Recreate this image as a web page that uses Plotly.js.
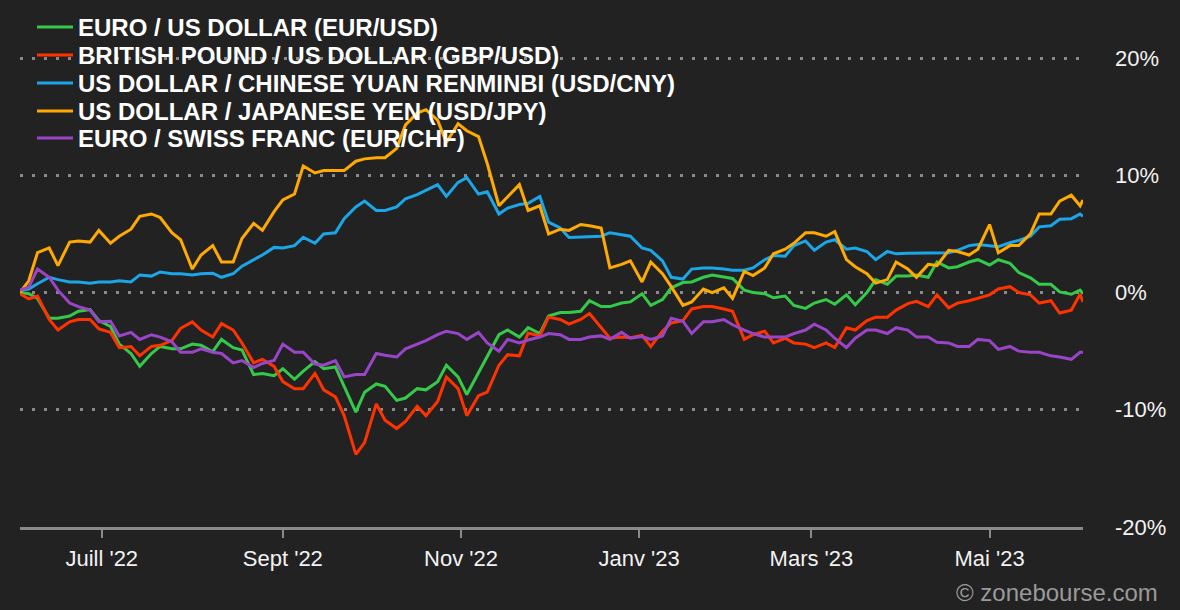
<!DOCTYPE html>
<html>
<head>
<meta charset="utf-8">
<script src="https://cdn.plot.ly/plotly-3.0.1.min.js"></script>
<style>html,body{margin:0;padding:0;background:#222222;}#chart{width:1180px;height:610px;}</style>
</head>
<body>
<div id="chart"></div>
<script>
const dates = ['2022-06-03','2022-06-06','2022-06-09','2022-06-13','2022-06-16','2022-06-20','2022-06-23','2022-06-27','2022-06-30','2022-07-04','2022-07-07','2022-07-11','2022-07-14','2022-07-18','2022-07-21','2022-07-25','2022-07-28','2022-08-01','2022-08-04','2022-08-08','2022-08-11','2022-08-15','2022-08-18','2022-08-22','2022-08-25','2022-08-29','2022-09-01','2022-09-05','2022-09-08','2022-09-12','2022-09-15','2022-09-19','2022-09-22','2022-09-26','2022-09-29','2022-10-03','2022-10-06','2022-10-10','2022-10-13','2022-10-17','2022-10-20','2022-10-24','2022-10-27','2022-10-31','2022-11-03','2022-11-07','2022-11-10','2022-11-14','2022-11-17','2022-11-21','2022-11-24','2022-11-28','2022-12-01','2022-12-05','2022-12-08','2022-12-12','2022-12-15','2022-12-19','2022-12-22','2022-12-26','2022-12-29','2023-01-02','2023-01-05','2023-01-09','2023-01-12','2023-01-16','2023-01-19','2023-01-23','2023-01-26','2023-01-30','2023-02-02','2023-02-06','2023-02-09','2023-02-13','2023-02-16','2023-02-20','2023-02-23','2023-02-27','2023-03-02','2023-03-06','2023-03-09','2023-03-13','2023-03-16','2023-03-20','2023-03-23','2023-03-27','2023-03-30','2023-04-03','2023-04-06','2023-04-10','2023-04-13','2023-04-17','2023-04-20','2023-04-24','2023-04-27','2023-05-01','2023-05-04','2023-05-08','2023-05-11','2023-05-15','2023-05-18','2023-05-22','2023-05-25','2023-05-29','2023-06-01','2023-06-02'];

const eurusd = [0.0,-0.1,-0.5,-2.2,-2.2,-2.0,-1.6,-1.45,-2.4,-2.9, -4.4,-5.2,-6.3,-5.2,-4.6,-4.8,-4.8,-4.4,-4.5,-5.05, -4.0,-4.7,-4.9,-7.0,-6.9,-7.1,-6.5,-7.4,-6.7,-5.9, -6.5,-6.35,-8.0,-10.2,-8.5,-7.8,-8.0,-9.2,-9.0,-8.2, -8.3,-7.6,-6.2,-7.2,-8.7,-6.8,-5.4,-3.6,-3.2,-3.8, -3.0,-3.5,-2.0,-1.7,-1.7,-1.6,-0.7,-1.2,-1.2,-0.9, -0.8,-0.1,-1.1,-0.6,0.4,0.85,0.9,1.3,1.5,1.3, 1.2,0.2,0.0,-0.1,-0.45,-0.3,-1.1,-1.35,-0.9,-0.6, -1.0,-0.2,-1.05,0.0,1.1,0.7,1.4,1.4,1.5,1.3, 2.6,2.1,2.2,2.6,2.8,2.35,2.8,2.5,1.7,1.25, 0.7,0.7,0.05,-0.15,0.2,-0.1];

const gbpusd = [-0.1,-0.55,-0.3,-2.3,-3.2,-2.5,-2.3,-2.3,-3.1,-3.4, -4.7,-4.6,-5.4,-4.6,-4.5,-4.1,-3.05,-2.5,-3.2,-3.8, -2.65,-3.2,-4.3,-6.0,-5.7,-6.3,-7.6,-8.2,-8.2,-6.9, -8.3,-8.9,-10.5,-13.8,-12.8,-9.5,-10.9,-11.6,-11.0,-9.7, -10.5,-9.3,-7.2,-8.2,-10.5,-8.8,-8.5,-6.2,-5.3,-5.4, -3.45,-3.7,-2.1,-2.3,-2.7,-2.3,-1.8,-3.0,-3.9,-3.8, -3.85,-3.65,-4.6,-3.3,-2.6,-2.4,-1.4,-1.2,-1.2,-1.4, -1.6,-4.0,-3.6,-3.3,-4.3,-3.9,-4.3,-4.4,-4.7,-4.3, -4.7,-3.0,-3.2,-2.4,-2.1,-2.1,-1.5,-0.95,-0.75,-1.2, -0.2,-1.3,-0.9,-0.7,-0.5,-0.2,0.3,0.5,0.0,-0.2, -0.9,-0.7,-1.75,-1.5,-0.15,-0.8];

const usdcny = [0.2,0.3,0.75,1.3,1.1,0.9,0.9,0.8,0.9,0.9, 1.0,0.9,1.5,1.4,1.75,1.6,1.6,1.5,1.6,1.65, 1.3,1.6,2.25,2.8,3.2,3.85,3.8,4.0,4.7,4.2, 5.0,5.1,6.3,7.3,7.8,7.0,7.0,7.3,8.0,8.35, 8.7,9.2,8.2,9.4,9.8,8.4,8.6,6.7,7.2,7.5, 7.6,8.2,6.0,5.5,4.7,4.75,4.8,4.8,5.1,4.9, 4.8,3.8,3.6,2.7,1.3,1.15,2.0,2.1,2.1,2.0, 1.9,1.9,2.1,2.8,3.15,3.1,4.0,4.4,3.6,4.3, 4.5,3.7,3.8,3.5,2.8,3.5,3.3,3.35,3.35,3.4, 3.35,3.4,3.6,4.0,4.1,3.95,3.9,4.25,4.45,4.8, 5.6,5.7,6.25,6.3,6.7,6.5];

const usdjpy = [0.0,1.0,3.4,3.8,2.3,4.3,4.4,4.3,5.3,4.2, 4.8,5.4,6.5,6.7,6.4,5.1,4.5,2.0,3.2,4.0, 2.6,2.6,4.6,5.9,5.3,6.9,7.9,8.4,10.8,10.2, 10.4,10.4,10.4,11.2,11.4,11.5,11.5,12.3,14.3,15.3, 15.6,14.7,12.8,14.4,13.8,13.3,11.0,7.4,8.15,9.2, 7.0,7.4,5.0,5.4,5.3,5.8,5.7,5.5,2.1,2.4, 2.7,0.9,2.6,1.6,0.5,-1.1,-0.8,0.3,0.0,0.4, -0.5,1.8,1.45,2.1,3.3,3.7,4.2,5.1,5.1,4.8, 5.2,2.8,2.2,1.6,0.8,1.1,2.6,2.0,1.3,2.4, 2.3,3.6,3.5,3.2,3.7,5.8,3.4,4.0,4.0,5.0, 6.7,6.7,7.8,8.3,7.4,7.9];

const eurchf = [0.2,0.45,2.0,1.3,0.2,-0.9,-1.2,-1.5,-2.5,-2.45, -3.7,-3.4,-4.0,-3.6,-3.8,-4.2,-5.1,-5.1,-4.8,-5.1, -5.2,-6.0,-5.8,-6.4,-6.05,-5.8,-4.4,-5.1,-5.1,-6.1, -6.2,-5.8,-7.2,-7.0,-7.0,-5.2,-5.35,-5.5,-4.8,-4.4, -4.1,-3.6,-3.3,-3.5,-4.0,-3.4,-4.3,-5.0,-4.0,-4.3, -4.05,-3.8,-3.5,-3.6,-4.0,-4.0,-3.8,-3.7,-4.0,-3.4, -3.9,-3.75,-4.0,-3.7,-2.2,-2.45,-3.5,-2.5,-2.5,-2.3, -2.75,-3.2,-3.5,-3.8,-3.8,-3.8,-3.5,-3.2,-2.7,-3.2, -3.9,-4.7,-3.9,-3.2,-3.2,-3.5,-3.0,-3.2,-3.8,-3.8, -4.25,-4.3,-4.6,-4.6,-4.0,-4.1,-4.85,-4.6,-5.0,-5.1, -5.1,-5.4,-5.5,-5.7,-5.1,-5.1];

const seriesNames = ['EURO / US DOLLAR (EUR/USD)','BRITISH POUND / US DOLLAR (GBP/USD)','US DOLLAR / CHINESE YUAN RENMINBI (USD/CNY)','US DOLLAR / JAPANESE YEN (USD/JPY)','EURO / SWISS FRANC (EUR/CHF)'];
const seriesColors = ['#35c94a','#ff3300','#1ba6e8','#ffaa00','#9a45c8'];
const xTickDates = ['2022-07-01','2022-09-01','2022-11-01','2023-01-01','2023-03-01','2023-05-01'];
const xTickLabels = ["Juill '22","Sept '22","Nov '22","Janv '23","Mars '23","Mai '23"];
const yTickVals = [-20,-10,0,10,20];
const yTickLabels = ['-20%','-10%','0%','10%','20%'];

const allSeries = [eurusd, gbpusd, usdcny, usdjpy, eurchf];
const legendIds = ['legend','legend2','legend3','legend4','legend5'];
const FONT = 'Liberation Sans, Arial, Helvetica, sans-serif';

const traces = allSeries.map((ys, i) => ({
  x: dates, y: ys, type: 'scatter', mode: 'lines',
  name: seriesNames[i],
  line: {color: seriesColors[i], width: 3},
  legend: legendIds[i],
  hoverinfo: 'skip'
}));

// plot area: x 20..1083, y 0..527 ; 20% sits at y=58
const PLOT_H = 527;
const legendTopsPx = [5, 33, 61, 89, 116];
const layout = {
  width: 1180, height: 610,
  paper_bgcolor: '#222222', plot_bgcolor: '#222222',
  margin: {l: 20, r: 97, t: 0, b: 83, autoexpand: false},
  font: {family: FONT, color: '#f2f2f2'},
  showlegend: true,
  xaxis: {
    type: 'date', range: ['2022-06-03', '2023-06-02'],
    tickmode: 'array', tickvals: xTickDates, ticktext: xTickLabels,
    ticks: 'outside', ticklen: 8, tickwidth: 2, tickcolor: '#8a8a8a',
    ticklabelstandoff: 2,
    showline: true, linecolor: '#8a8a8a', linewidth: 3,
    showgrid: false, zeroline: false,
    tickfont: {family: FONT, size: 22, color: '#f2f2f2'},
    fixedrange: true
  },
  yaxis: {
    side: 'right', range: [-20, 24.95],
    tickmode: 'array', tickvals: yTickVals, ticktext: yTickLabels,
    showgrid: true, gridcolor: '#8a8a8a', gridwidth: 3, griddash: '3px,9px',
    zeroline: false, showline: false, ticks: '',
    ticklabelstandoff: 31,
    tickfont: {family: FONT, size: 22, color: '#f2f2f2'},
    fixedrange: true
  },
  annotations: [{
    xref: 'paper', yref: 'paper', x: (1160 - 20) / 1063, y: (527 - 592) / PLOT_H,
    xanchor: 'right', yanchor: 'middle', showarrow: false,
    text: '© zonebourse.com',
    font: {family: FONT, size: 24, color: '#9a9a9a'}
  }]
};
legendIds.forEach((id, i) => {
  layout[id] = {
    x: (32 - 20) / 1063, xanchor: 'left',
    y: (527 - legendTopsPx[i]) / PLOT_H, yanchor: 'top',
    bgcolor: 'rgba(0,0,0,0)', borderwidth: 0,
    font: {family: FONT, size: 24, color: '#ffffff', weight: 'bold'},
    itemwidth: 36
  };
});

Plotly.newPlot('chart', traces, layout, {displayModeBar: false, staticPlot: true});
</script>
</body>
</html>
